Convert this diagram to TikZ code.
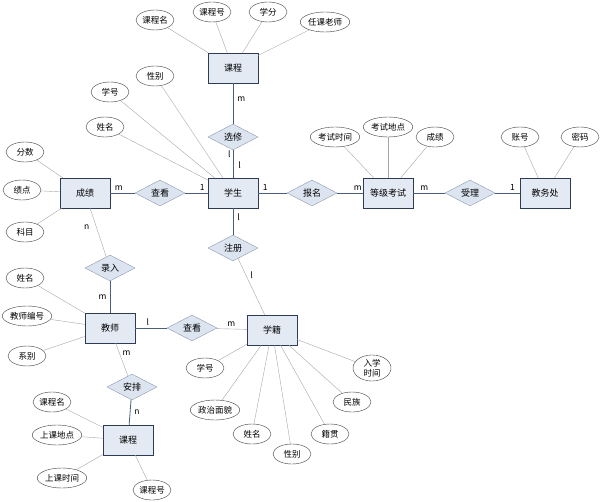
\documentclass[tikz,border=0pt]{standalone}
\usepackage{fontspec}
\setmainfont{Noto Sans CJK SC}
\usetikzlibrary{shapes.geometric,positioning}
\definecolor{entfill}{HTML}{E4EAF4}
\definecolor{entline}{HTML}{2E3B55}
\definecolor{relfill}{HTML}{DCE4F0}
\definecolor{relline}{HTML}{8A98B0}
\definecolor{linkline}{HTML}{4A5E80}
\tikzset{
  entity/.style={draw=entline,fill=entfill,minimum width=50pt,minimum height=30pt,font=\fontsize{9}{10}\selectfont},
  relation/.style={diamond,aspect=2,draw=relline,fill=relfill,inner sep=1pt,minimum width=50pt,minimum height=26pt,font=\fontsize{9}{10}\selectfont},
  attrib/.style={ellipse,draw=black!75,fill=white,inner sep=0.5pt,minimum width=38pt,minimum height=20pt,font=\fontsize{8.5}{9.5}\selectfont},
  link/.style={draw=linkline,line width=0.8pt},
  attrlink/.style={draw=black!35,line width=0.4pt},
  card/.style={font=\fontsize{8.5}{9}\selectfont,inner sep=1pt}
}
\begin{document}
\begin{tikzpicture}[x=1pt,y=-1pt]
\useasboundingbox (0,0) rectangle (609,502);
% entities
\node[entity] (kc) at (233,68) {课程};
\node[entity] (xs) at (233,193) {学生};
\node[entity] (cj) at (85,193) {成绩};
\node[entity] (djks) at (388,193) {等级考试};
\node[entity] (jwc) at (545,193) {教务处};
\node[entity] (js) at (110,328) {教师};
\node[entity] (xj) at (272,330) {学籍};
\node[entity] (kc2) at (128,440) {课程};
% relationships
\node[relation] (xx) at (233,137) {选修};
\node[relation] (ck) at (160,193) {查看};
\node[relation] (bm) at (312,193) {报名};
\node[relation] (sl) at (470,193) {受理};
\node[relation] (zc) at (233,248) {注册};
\node[relation] (lr) at (110,268) {录入};
\node[relation] (ck2) at (192,328) {查看};
\node[relation] (ap) at (132,387) {安排};
% attributes
\node[attrib] (kcm) at (155,20) {课程名};
\node[attrib] (kch) at (212,12) {课程号};
\node[attrib] (xf) at (268,12) {学分};
\node[attrib] (rkls) at (325,22) {任课老师};
\node[attrib] (xsxb) at (155,76) {性别};
\node[attrib] (xsxh) at (110,92) {学号};
\node[attrib] (xsxm) at (105,127) {姓名};
\node[attrib] (fs) at (25,152) {分数};
\node[attrib] (jd) at (22,190) {绩点};
\node[attrib] (km) at (25,232) {科目};
\node[attrib] (kssj) at (335,137) {考试时间};
\node[attrib] (ksdd) at (388,127) {考试地点};
\node[attrib] (kscj) at (435,137) {成绩};
\node[attrib] (zh) at (520,137) {账号};
\node[attrib] (mm) at (580,137) {密码};
\node[attrib] (jsxm) at (25,278) {姓名};
\node[attrib] (jsbh) at (27,316) {教师编号};
\node[attrib] (jsxb) at (27,356) {系别};
\node[attrib] (xjxh) at (205,368) {学号};
\node[attrib] (zzmm) at (215,410) {政治面貌};
\node[attrib] (xjxm) at (252,434) {姓名};
\node[attrib] (xjxb) at (292,454) {性别};
\node[attrib] (jg) at (330,434) {籍贯};
\node[attrib] (mz) at (352,402) {民族};
\node[attrib,align=center,minimum height=26pt] (rxsj) at (372,368) {入学\\时间};
\node[attrib] (skm) at (52,402) {课程名};
\node[attrib] (skdd) at (57,435) {上课地点};
\node[attrib] (sksj) at (62,478) {上课时间};
\node[attrib] (skh) at (152,490) {课程号};
% attribute lines
\foreach \a/\e in {kcm/kc,kch/kc,xf/kc,rkls/kc,xsxb/xs,xsxh/xs,xsxm/xs,fs/cj,jd/cj,km/cj,
  kssj/djks,ksdd/djks,kscj/djks,zh/jwc,mm/jwc,jsxm/js,jsbh/js,jsxb/js,
  xjxh/xj,zzmm/xj,xjxm/xj,xjxb/xj,jg/xj,mz/xj,rxsj/xj,skm/kc2,skdd/kc2,sksj/kc2,skh/kc2}
  \draw[attrlink] (\a) -- (\e);
% relationship lines
\draw[link] (kc) -- node[card,pos=0.4,right=3pt] {m} (xx);
\draw[link] (xx) -- node[card,pos=0.15,left=1pt] {l} node[card,pos=0.55,right=4pt] {l} (xs);
\draw[link] (cj) -- node[card,pos=0.35,above=1pt] {m} (ck);
\draw[link] (ck) -- node[card,pos=0.75,above=1pt] {1} (xs);
\draw[link] (xs) -- node[card,pos=0.25,above=1pt] {1} (bm);
\draw[link] (bm) -- node[card,pos=0.8,above=1pt] {m} (djks);
\draw[link] (djks) -- node[card,pos=0.35,above=1pt] {m} (sl);
\draw[link] (sl) -- node[card,pos=0.7,above=1pt] {1} (jwc);
\draw[link] (xs) -- node[card,pos=0.35,right=3pt] {l} (zc);
\draw[attrlink] (zc) -- node[card,pos=0.3,right=3pt] {l} (xj);
\draw[attrlink] (cj) -- node[card,pos=0.4,left=6pt] {n} (lr);
\draw[link] (lr) -- node[card,pos=0.5,left=2pt] {m} (js);
\draw[link] (js) -- node[card,pos=0.4,above=1pt] {l} (ck2);
\draw[attrlink] (ck2) -- node[card,pos=0.5,above=1pt] {m} (xj);
\draw[attrlink] (js) -- node[card,pos=0.3,right=2pt] {m} (ap);
\draw[link] (ap) -- node[card,pos=0.5,right=3pt] {n} (kc2);
\end{tikzpicture}
\end{document}
